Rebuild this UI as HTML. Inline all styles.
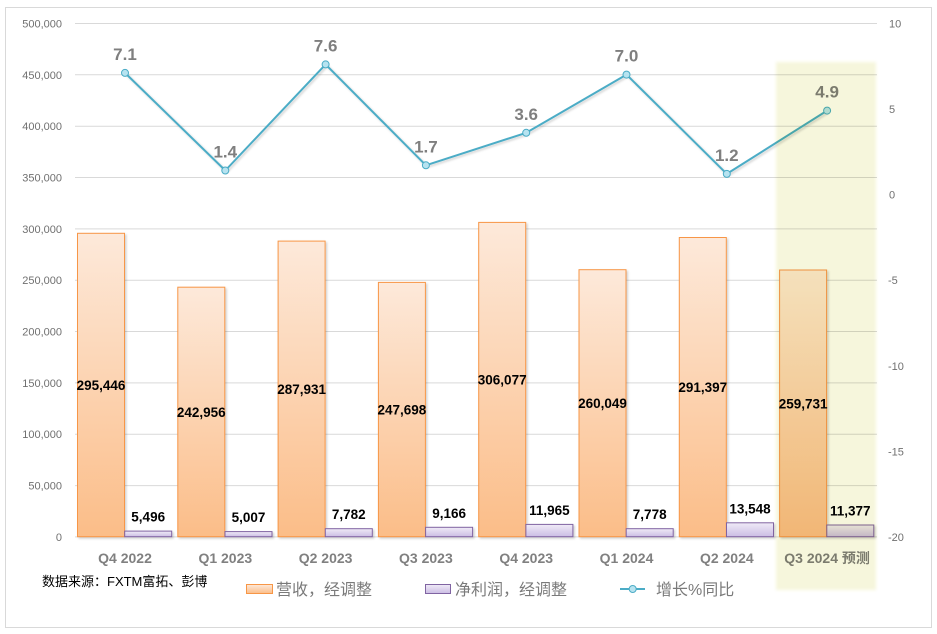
<!DOCTYPE html>
<html>
<head>
<meta charset="utf-8">
<style>
html,body{margin:0;padding:0;background:#fff;}
svg{display:block;}
.ax{font-family:"Liberation Sans",sans-serif;font-size:11px;fill:#707070;}
.xl{font-family:"Liberation Sans","Noto Sans CJK SC",sans-serif;font-size:14px;font-weight:bold;fill:#808080;}
.dl{font-family:"Liberation Sans",sans-serif;font-size:13.5px;font-weight:bold;fill:#000;}
.ll{font-family:"Liberation Sans",sans-serif;font-size:17px;font-weight:bold;fill:#7f7f7f;}
.lg{font-family:"Liberation Sans","Noto Sans CJK SC",sans-serif;font-size:16px;fill:#7a7a7a;}
.src{font-family:"Liberation Sans","Noto Sans CJK SC",sans-serif;font-size:13px;fill:#000;}
</style>
</head>
<body>
<svg width="937" height="634" viewBox="0 0 937 634" xmlns="http://www.w3.org/2000/svg">
<defs>
<linearGradient id="gr" x1="0" y1="0" x2="0" y2="1">
<stop offset="0" stop-color="#fde9da"/>
<stop offset="1" stop-color="#fbbd88"/>
</linearGradient>
<linearGradient id="gp" x1="0" y1="0" x2="0" y2="1">
<stop offset="0" stop-color="#f0ebf7"/>
<stop offset="1" stop-color="#cbbde4"/>
</linearGradient>
<filter id="sh" x="-10%" y="-10%" width="130%" height="130%">
<feDropShadow dx="1.5" dy="1.5" stdDeviation="1" flood-color="#000" flood-opacity="0.18"/>
</filter>
<filter id="bl" x="-10%" y="-10%" width="120%" height="120%">
<feGaussianBlur stdDeviation="1.5"/>
</filter>
</defs>
<rect x="0" y="0" width="937" height="634" fill="#fff"/>
<rect x="5.5" y="7.5" width="926" height="620" fill="#fff" stroke="#d9d9d9" stroke-width="1"/>

<!-- gridlines -->
<g stroke="#d9d9d9" stroke-width="1">
<line x1="75" x2="877" y1="23.5" y2="23.5"/>
<line x1="75" x2="877" y1="74.8" y2="74.8"/>
<line x1="75" x2="877" y1="126.2" y2="126.2"/>
<line x1="75" x2="877" y1="177.5" y2="177.5"/>
<line x1="75" x2="877" y1="228.9" y2="228.9"/>
<line x1="75" x2="877" y1="280.2" y2="280.2"/>
<line x1="75" x2="877" y1="331.5" y2="331.5"/>
<line x1="75" x2="877" y1="382.9" y2="382.9"/>
<line x1="75" x2="877" y1="434.2" y2="434.2"/>
<line x1="75" x2="877" y1="485.6" y2="485.6"/>
<line x1="75" x2="877" y1="536.9" y2="536.9"/>
</g>

<!-- left axis labels -->
<g class="ax" text-anchor="end">
<text x="62" y="27.5">500,000</text>
<text x="62" y="78.8">450,000</text>
<text x="62" y="130.2">400,000</text>
<text x="62" y="181.5">350,000</text>
<text x="62" y="232.9">300,000</text>
<text x="62" y="284.2">250,000</text>
<text x="62" y="335.5">200,000</text>
<text x="62" y="386.9">150,000</text>
<text x="62" y="438.2">100,000</text>
<text x="62" y="489.6">50,000</text>
<text x="62" y="540.9">0</text>
</g>
<!-- right axis labels -->
<g class="ax" text-anchor="start">
<text x="889" y="27.5">10</text>
<text x="889" y="113">5</text>
<text x="889" y="198.6">0</text>
<text x="888" y="284.2">-5</text>
<text x="888" y="369.8">-10</text>
<text x="888" y="455.3">-15</text>
<text x="888" y="540.9">-20</text>
</g>

<!-- bars -->
<g filter="url(#sh)">
<rect x="77.5" y="233.3" width="47" height="303.4" fill="url(#gr)" stroke="#f79646" stroke-width="1"/>
<rect x="124.7" y="531.1" width="47" height="5.6" fill="url(#gp)" stroke="#8064a2" stroke-width="1"/>

<rect x="177.8" y="287.2" width="47" height="249.5" fill="url(#gr)" stroke="#f79646" stroke-width="1"/>
<rect x="225" y="531.6" width="47" height="5.1" fill="url(#gp)" stroke="#8064a2" stroke-width="1"/>

<rect x="278.1" y="241.1" width="47" height="295.6" fill="url(#gr)" stroke="#f79646" stroke-width="1"/>
<rect x="325.3" y="528.7" width="47" height="8" fill="url(#gp)" stroke="#8064a2" stroke-width="1"/>

<rect x="378.4" y="282.4" width="47" height="254.3" fill="url(#gr)" stroke="#f79646" stroke-width="1"/>
<rect x="425.6" y="527.3" width="47" height="9.4" fill="url(#gp)" stroke="#8064a2" stroke-width="1"/>

<rect x="478.7" y="222.4" width="47" height="314.3" fill="url(#gr)" stroke="#f79646" stroke-width="1"/>
<rect x="525.9" y="524.4" width="47" height="12.3" fill="url(#gp)" stroke="#8064a2" stroke-width="1"/>

<rect x="579" y="269.7" width="47" height="267" fill="url(#gr)" stroke="#f79646" stroke-width="1"/>
<rect x="626.2" y="528.7" width="47" height="8" fill="url(#gp)" stroke="#8064a2" stroke-width="1"/>

<rect x="679.3" y="237.5" width="47" height="299.2" fill="url(#gr)" stroke="#f79646" stroke-width="1"/>
<rect x="726.5" y="522.8" width="47" height="13.9" fill="url(#gp)" stroke="#8064a2" stroke-width="1"/>

<rect x="779.6" y="270" width="47" height="266.7" fill="url(#gr)" stroke="#f79646" stroke-width="1"/>
<rect x="826.8" y="525" width="47" height="11.7" fill="url(#gp)" stroke="#8064a2" stroke-width="1"/>
</g>

<!-- revenue labels (centered) -->
<g class="dl" text-anchor="middle">
<text x="101" y="390">295,446</text>
<text x="201.3" y="416.9">242,956</text>
<text x="301.6" y="393.9">287,931</text>
<text x="401.9" y="414.5">247,698</text>
<text x="502.2" y="384.5">306,077</text>
<text x="602.5" y="408.2">260,049</text>
<text x="702.8" y="392.1">291,397</text>
<text x="803.1" y="408.3">259,731</text>
</g>
<!-- profit labels -->
<g class="dl" text-anchor="middle">
<text x="148.2" y="521.6">5,496</text>
<text x="248.5" y="522.1">5,007</text>
<text x="348.8" y="519.2">7,782</text>
<text x="449.1" y="517.8">9,166</text>
<text x="549.4" y="514.9">11,965</text>
<text x="649.7" y="519.2">7,778</text>
<text x="750" y="513.3">13,548</text>
<text x="850.3" y="515.5">11,377</text>
</g>

<!-- line -->
<polyline filter="url(#sh)" fill="none" stroke="#4bacc6" stroke-width="2" stroke-linejoin="round"
points="125,72.9 225.3,170.5 325.6,64.4 425.9,165.3 526.2,132.8 626.5,74.6 726.8,173.9 827.1,110.6"/>
<g fill="#b7e3f0" stroke="#4bacc6" stroke-width="1">
<circle cx="125" cy="72.9" r="3.5"/>
<circle cx="225.3" cy="170.5" r="3.5"/>
<circle cx="325.6" cy="64.4" r="3.5"/>
<circle cx="425.9" cy="165.3" r="3.5"/>
<circle cx="526.2" cy="132.8" r="3.5"/>
<circle cx="626.5" cy="74.6" r="3.5"/>
<circle cx="726.8" cy="173.9" r="3.5"/>
<circle cx="827.1" cy="110.6" r="3.5"/>
</g>
<g class="ll" text-anchor="middle">
<text x="125" y="60">7.1</text>
<text x="225.3" y="157.6">1.4</text>
<text x="325.6" y="51.5">7.6</text>
<text x="425.9" y="152.4">1.7</text>
<text x="526.2" y="119.9">3.6</text>
<text x="626.5" y="61.7">7.0</text>
<text x="726.8" y="161">1.2</text>
<text x="827.1" y="97.7">4.9</text>
</g>

<!-- x labels -->
<g class="xl" text-anchor="middle">
<text x="125" y="563">Q4 2022</text>
<text x="225.3" y="563">Q1 2023</text>
<text x="325.6" y="563">Q2 2023</text>
<text x="425.9" y="563">Q3 2023</text>
<text x="526.2" y="563">Q4 2023</text>
<text x="626.5" y="563">Q1 2024</text>
<text x="726.8" y="563">Q2 2024</text>
<text x="827.1" y="563">Q3 2024 预测</text>
</g>

<!-- source -->
<text class="src" x="42" y="586">数据来源：FXTM富拓、彭博</text>

<!-- legend -->
<rect x="246.5" y="584.5" width="26" height="9" fill="url(#gr)" stroke="#f79646" stroke-width="1"/>
<text class="lg" x="276" y="595">营收，经调整</text>
<rect x="425.5" y="584.5" width="25" height="9" fill="url(#gp)" stroke="#8064a2" stroke-width="1"/>
<text class="lg" x="455" y="595">净利润，经调整</text>
<line x1="620" x2="645" y1="589" y2="589" stroke="#4bacc6" stroke-width="2"/>
<circle cx="632.7" cy="589" r="3.5" fill="#b7e3f0" stroke="#4bacc6" stroke-width="1"/>
<text class="lg" x="656" y="595">增长%同比</text>

<!-- highlight overlay -->
<rect x="776" y="62" width="100" height="528" fill="#f6f6dc" filter="url(#bl)" style="mix-blend-mode:multiply"/>
</svg>
</body>
</html>
